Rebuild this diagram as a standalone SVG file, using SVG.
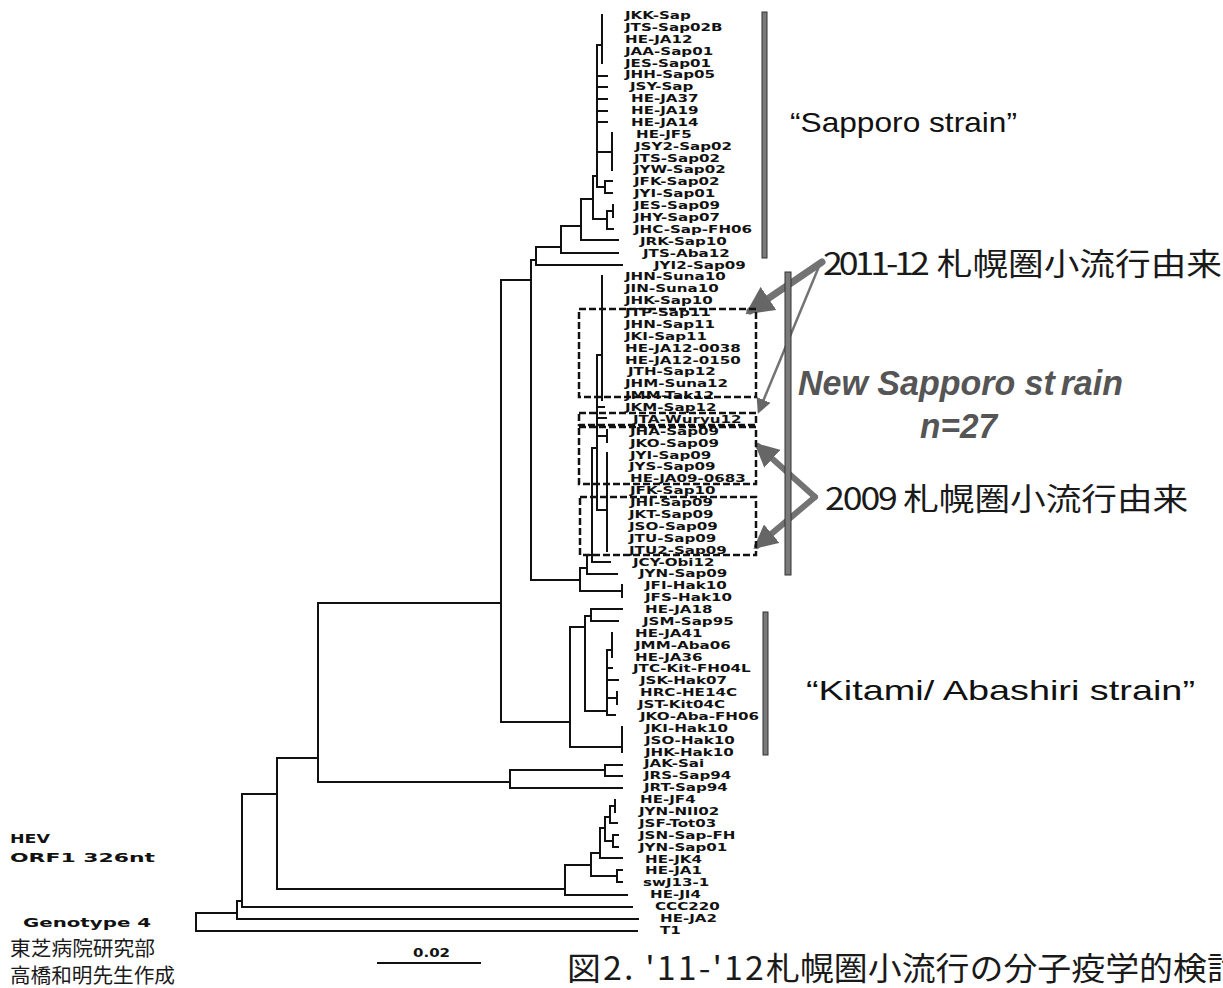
<svg xmlns="http://www.w3.org/2000/svg" width="1223" height="988" viewBox="0 0 1223 988">
<style>
.t{fill:none;stroke:#111;stroke-width:2;stroke-linecap:square}
.lf{font-family:"DejaVu Sans",sans-serif;font-weight:bold;font-size:10.5px;fill:#111}
.db{fill:none;stroke:#111;stroke-width:2.5;stroke-dasharray:7 3}
.bar{fill:#7a7a7a;stroke:#333;stroke-width:1}
.ga{stroke:#737373;fill:none;stroke-linecap:round}
.ann{font-family:"Liberation Sans",sans-serif;font-size:28px;fill:#111}
.jp{font-family:"Noto Sans CJK JP",sans-serif;fill:#1a1a1a}
.bl{font-family:"DejaVu Sans",sans-serif;font-weight:bold;font-size:13px;fill:#111}
.it{font-family:"Liberation Sans",sans-serif;font-style:italic;font-weight:bold;font-size:35px;fill:#555}
</style>
<defs>
<marker id="ah" viewBox="0 0 10 10" refX="8" refY="5" markerWidth="4" markerHeight="4" orient="auto">
<path d="M0,0 L10,5 L0,10 z" fill="#666"/>
</marker>
<marker id="ahs" viewBox="0 0 10 10" refX="8" refY="5" markerWidth="6" markerHeight="6" orient="auto">
<path d="M0,0 L10,5 L0,10 z" fill="#666"/>
</marker>
</defs>
<rect width="1223" height="988" fill="#fff"/>

<g id="connectors">
<path class="t" d="
M597 45 V187 M597 45 H602 M602 15 V63
M597 76 H607 M597 87 H607 M597 99 H607 M597 111 H607 M597 122 H607
M597 152 H612 M612 133 V170
M597 187 H605 M605 181 V193 M605 181 H612 M605 193 H612
M593 176 V219 M593 176 H597 M593 219 H607
M607 211 V229 M607 211 H613 M613 205 V217 M607 229 H613
M581 199 V240 M581 199 H593 M581 240 H618
M561 226 V253 M561 226 H581 M561 253 H618
M536 247 V265 M536 247 H561 M536 265 H622
M531 260 V580 M531 260 H536 M531 580 H580
M501 280 V722 M501 280 H531 M501 722 H570
M318 603 V782 M318 603 H501 M318 782 H510
M510 770 V788 M510 770 H605 M605 765 V776 M605 765 H622 M605 776 H622 M510 788 H622
M277 758 V889 M277 758 H318 M277 889 H565
M242 794 V907 M242 794 H277 M242 907 H632
M237 901 V919 M237 901 H242 M237 919 H638
M196 913 V931 M196 913 H237 M196 931 H637
M565 865 V895 M565 895 H627 M565 865 H591
M591 853 V876 M591 853 H600 M591 876 H617 M617 870 V882 M617 870 H622 M617 882 H622
M600 828 V858 M600 828 H605 M600 858 H622
M605 817 V841 M605 817 H610 M605 841 H613 M613 835 V847 M613 835 H618 M613 847 H618
M610 806 V823 M610 806 H615 M615 800 V812 M610 823 H617
M570 627 V747 M570 627 H585 M570 747 H622 M622 727 V752
M585 616 V711 M585 616 H591 M591 609 V621 M591 609 H622 M591 621 H618 M585 711 H607
M607 650 V715 M607 650 H612 M612 633 V657 M607 668 H612 M607 680 H618 M607 698 H617 M617 692 V704 M607 715 H615
M580 568 V591 M580 591 H622 M622 585 V597
M587 555 V574 M580 568 H587 M587 574 H617
M592 448 V562 M587 555 H592 M592 562 H610
M597 355 V510 M592 448 H597 M597 355 H602 M602 276 V400
M597 407 H604 M597 418 H606
M597 436 H607 M607 430 V442
M597 510 H607 M607 453 V551
"/>
<path class="t" stroke-width="1.5" d="M378 963 H480"/>
<path class="ga" stroke-width="7" d="M822 262 L750 311" marker-end="url(#ah)"/>
<path class="ga" stroke-width="2.5" d="M820 264 L759 411" marker-end="url(#ahs)"/>
<path class="ga" stroke-width="6" d="M815 497 L758 446" marker-end="url(#ah)"/>
<path class="ga" stroke-width="6" d="M815 497 L757 546" marker-end="url(#ah)"/>
</g>

<g id="boxes">
<rect class="db" x="579" y="309" width="177" height="88"/>
<rect class="db" x="579" y="413" width="177" height="12"/>
<rect class="db" x="579" y="427" width="177" height="57"/>
<rect class="db" x="580" y="497" width="176" height="58"/>
</g>

<g id="bars">
<rect id="bar-sapporo" class="bar" x="762" y="12" width="5" height="246"/>
<rect id="bar-new" class="bar" x="785" y="272" width="6" height="303"/>
<rect id="bar-kitami" class="bar" x="763" y="612" width="5" height="143"/>
</g>

<g id="leaves">
<g id="n-JKK-Sap" transform="translate(625 19) scale(1.44 1)"><text class="lf">JKK-Sap</text></g>
<g id="n-JTS-Sap02B" transform="translate(625 30.9) scale(1.44 1)"><text class="lf">JTS-Sap02B</text></g>
<g id="n-HE-JA12" transform="translate(625 42.8) scale(1.44 1)"><text class="lf">HE-JA12</text></g>
<g id="n-JAA-Sap01" transform="translate(625 54.6) scale(1.44 1)"><text class="lf">JAA-Sap01</text></g>
<g id="n-JES-Sap01" transform="translate(625 66.5) scale(1.44 1)"><text class="lf">JES-Sap01</text></g>
<g id="n-JHH-Sap05" transform="translate(625 78.4) scale(1.44 1)"><text class="lf">JHH-Sap05</text></g>
<g id="n-JSY-Sap" transform="translate(630 90.3) scale(1.44 1)"><text class="lf">JSY-Sap</text></g>
<g id="n-HE-JA37" transform="translate(631 102.2) scale(1.44 1)"><text class="lf">HE-JA37</text></g>
<g id="n-HE-JA19" transform="translate(631 114) scale(1.44 1)"><text class="lf">HE-JA19</text></g>
<g id="n-HE-JA14" transform="translate(631 125.9) scale(1.44 1)"><text class="lf">HE-JA14</text></g>
<g id="n-HE-JF5" transform="translate(636 137.8) scale(1.44 1)"><text class="lf">HE-JF5</text></g>
<g id="n-JSY2-Sap02" transform="translate(635 149.7) scale(1.44 1)"><text class="lf">JSY2-Sap02</text></g>
<g id="n-JTS-Sap02" transform="translate(634 161.6) scale(1.44 1)"><text class="lf">JTS-Sap02</text></g>
<g id="n-JYW-Sap02" transform="translate(634 173.4) scale(1.44 1)"><text class="lf">JYW-Sap02</text></g>
<g id="n-JFK-Sap02" transform="translate(634 185.3) scale(1.44 1)"><text class="lf">JFK-Sap02</text></g>
<g id="n-JYI-Sap01" transform="translate(634 197.2) scale(1.44 1)"><text class="lf">JYI-Sap01</text></g>
<g id="n-JES-Sap09" transform="translate(634 209.1) scale(1.44 1)"><text class="lf">JES-Sap09</text></g>
<g id="n-JHY-Sap07" transform="translate(634 221) scale(1.44 1)"><text class="lf">JHY-Sap07</text></g>
<g id="n-JHC-Sap-FH06" transform="translate(634 232.8) scale(1.44 1)"><text class="lf">JHC-Sap-FH06</text></g>
<g id="n-JRK-Sap10" transform="translate(640 244.7) scale(1.44 1)"><text class="lf">JRK-Sap10</text></g>
<g id="n-JTS-Aba12" transform="translate(643 256.6) scale(1.44 1)"><text class="lf">JTS-Aba12</text></g>
<g id="n-JYI2-Sap09" transform="translate(654 268.5) scale(1.44 1)"><text class="lf">JYI2-Sap09</text></g>
<g id="n-JHN-Suna10" transform="translate(625 280.4) scale(1.44 1)"><text class="lf">JHN-Suna10</text></g>
<g id="n-JIN-Suna10" transform="translate(625 292.2) scale(1.44 1)"><text class="lf">JIN-Suna10</text></g>
<g id="n-JHK-Sap10" transform="translate(625 304.1) scale(1.44 1)"><text class="lf">JHK-Sap10</text></g>
<g id="n-JTP-Sap11" transform="translate(625 316) scale(1.44 1)"><text class="lf">JTP-Sap11</text></g>
<g id="n-JHN-Sap11" transform="translate(625 327.9) scale(1.44 1)"><text class="lf">JHN-Sap11</text></g>
<g id="n-JKI-Sap11" transform="translate(625 339.8) scale(1.44 1)"><text class="lf">JKI-Sap11</text></g>
<g id="n-HE-JA12-0038" transform="translate(625 351.6) scale(1.44 1)"><text class="lf">HE-JA12-0038</text></g>
<g id="n-HE-JA12-0150" transform="translate(625 363.5) scale(1.44 1)"><text class="lf">HE-JA12-0150</text></g>
<g id="n-JTH-Sap12" transform="translate(628 375.4) scale(1.44 1)"><text class="lf">JTH-Sap12</text></g>
<g id="n-JHM-Suna12" transform="translate(625 387.3) scale(1.44 1)"><text class="lf">JHM-Suna12</text></g>
<g id="n-JMM-Tak12" transform="translate(625 399.2) scale(1.44 1)"><text class="lf">JMM-Tak12</text></g>
<g id="n-JKM-Sap12" transform="translate(625 411) scale(1.44 1)"><text class="lf">JKM-Sap12</text></g>
<g id="n-JTA-Wuryu12" transform="translate(633 422.9) scale(1.44 1)"><text class="lf">JTA-Wuryu12</text></g>
<g id="n-JHA-Sap09" transform="translate(630 434.8) scale(1.44 1)"><text class="lf">JHA-Sap09</text></g>
<g id="n-JKO-Sap09" transform="translate(630 446.7) scale(1.44 1)"><text class="lf">JKO-Sap09</text></g>
<g id="n-JYI-Sap09" transform="translate(630 458.6) scale(1.44 1)"><text class="lf">JYI-Sap09</text></g>
<g id="n-JYS-Sap09" transform="translate(629 470.4) scale(1.44 1)"><text class="lf">JYS-Sap09</text></g>
<g id="n-HE-JA09-0683" transform="translate(630 482.3) scale(1.44 1)"><text class="lf">HE-JA09-0683</text></g>
<g id="n-JFK-Sap10" transform="translate(630 494.2) scale(1.44 1)"><text class="lf">JFK-Sap10</text></g>
<g id="n-JHI-Sap09" transform="translate(630 506.1) scale(1.44 1)"><text class="lf">JHI-Sap09</text></g>
<g id="n-JKT-Sap09" transform="translate(629 518) scale(1.44 1)"><text class="lf">JKT-Sap09</text></g>
<g id="n-JSO-Sap09" transform="translate(629 529.8) scale(1.44 1)"><text class="lf">JSO-Sap09</text></g>
<g id="n-JTU-Sap09" transform="translate(629 541.7) scale(1.44 1)"><text class="lf">JTU-Sap09</text></g>
<g id="n-JTU2-Sap09" transform="translate(629 553.6) scale(1.44 1)"><text class="lf">JTU2-Sap09</text></g>
<g id="n-JCY-Obi12" transform="translate(633 565.5) scale(1.44 1)"><text class="lf">JCY-Obi12</text></g>
<g id="n-JYN-Sap09" transform="translate(639 577.4) scale(1.44 1)"><text class="lf">JYN-Sap09</text></g>
<g id="n-JFI-Hak10" transform="translate(645 589.2) scale(1.44 1)"><text class="lf">JFI-Hak10</text></g>
<g id="n-JFS-Hak10" transform="translate(645 601.1) scale(1.44 1)"><text class="lf">JFS-Hak10</text></g>
<g id="n-HE-JA18" transform="translate(645 613) scale(1.44 1)"><text class="lf">HE-JA18</text></g>
<g id="n-JSM-Sap95" transform="translate(643 624.9) scale(1.44 1)"><text class="lf">JSM-Sap95</text></g>
<g id="n-HE-JA41" transform="translate(635 636.8) scale(1.44 1)"><text class="lf">HE-JA41</text></g>
<g id="n-JMM-Aba06" transform="translate(635 648.6) scale(1.44 1)"><text class="lf">JMM-Aba06</text></g>
<g id="n-HE-JA36" transform="translate(635 660.5) scale(1.44 1)"><text class="lf">HE-JA36</text></g>
<g id="n-JTC-Kit-FH04L" transform="translate(633 672.4) scale(1.44 1)"><text class="lf">JTC-Kit-FH04L</text></g>
<g id="n-JSK-Hak07" transform="translate(640 684.3) scale(1.44 1)"><text class="lf">JSK-Hak07</text></g>
<g id="n-HRC-HE14C" transform="translate(640 696.2) scale(1.44 1)"><text class="lf">HRC-HE14C</text></g>
<g id="n-JST-Kit04C" transform="translate(638 708) scale(1.44 1)"><text class="lf">JST-Kit04C</text></g>
<g id="n-JKO-Aba-FH06" transform="translate(640 719.9) scale(1.44 1)"><text class="lf">JKO-Aba-FH06</text></g>
<g id="n-JKI-Hak10" transform="translate(645 731.8) scale(1.44 1)"><text class="lf">JKI-Hak10</text></g>
<g id="n-JSO-Hak10" transform="translate(645 743.7) scale(1.44 1)"><text class="lf">JSO-Hak10</text></g>
<g id="n-JHK-Hak10" transform="translate(645 755.6) scale(1.44 1)"><text class="lf">JHK-Hak10</text></g>
<g id="n-JAK-Sai" transform="translate(644 767.4) scale(1.44 1)"><text class="lf">JAK-Sai</text></g>
<g id="n-JRS-Sap94" transform="translate(644 779.3) scale(1.44 1)"><text class="lf">JRS-Sap94</text></g>
<g id="n-JRT-Sap94" transform="translate(644 791.2) scale(1.44 1)"><text class="lf">JRT-Sap94</text></g>
<g id="n-HE-JF4" transform="translate(640 803.1) scale(1.44 1)"><text class="lf">HE-JF4</text></g>
<g id="n-JYN-NII02" transform="translate(639 815) scale(1.44 1)"><text class="lf">JYN-NII02</text></g>
<g id="n-JSF-Tot03" transform="translate(639 826.8) scale(1.44 1)"><text class="lf">JSF-Tot03</text></g>
<g id="n-JSN-Sap-FH" transform="translate(639 838.7) scale(1.44 1)"><text class="lf">JSN-Sap-FH</text></g>
<g id="n-JYN-Sap01" transform="translate(639 850.6) scale(1.44 1)"><text class="lf">JYN-Sap01</text></g>
<g id="n-HE-JK4" transform="translate(645 862.5) scale(1.44 1)"><text class="lf">HE-JK4</text></g>
<g id="n-HE-JA1" transform="translate(645 874.4) scale(1.44 1)"><text class="lf">HE-JA1</text></g>
<g id="n-swJ13-1" transform="translate(643 886.2) scale(1.44 1)"><text class="lf">swJ13-1</text></g>
<g id="n-HE-JI4" transform="translate(650 898.1) scale(1.44 1)"><text class="lf">HE-JI4</text></g>
<g id="n-CCC220" transform="translate(655 910) scale(1.44 1)"><text class="lf">CCC220</text></g>
<g id="n-HE-JA2" transform="translate(660 921.9) scale(1.44 1)"><text class="lf">HE-JA2</text></g>
<g id="n-T1" transform="translate(660 933.8) scale(1.44 1)"><text class="lf">T1</text></g>
</g>

<g id="annotations">
<g id="lbl-sapporo"><text class="ann" x="790" y="132" textLength="227" lengthAdjust="spacingAndGlyphs">“Sapporo strain”</text></g>
<g id="lbl-kitami"><text class="ann" x="806" y="700" textLength="389" lengthAdjust="spacingAndGlyphs">“Kitami/ Abashiri strain”</text></g>
<g id="lbl-new"><text class="it" x="798" y="395" textLength="325" lengthAdjust="spacingAndGlyphs">New Sapporo st<tspan dx="6">rain</tspan></text>
<text class="it" x="920" y="438" textLength="77" lengthAdjust="spacingAndGlyphs">n=27</text></g>
<g id="lbl-2011"><text class="jp" font-size="31" transform="translate(823 275) scale(1.15 1)"><tspan letter-spacing="-3.5">2011-12</tspan><tspan x="99">札幌圏小流行由来</tspan></text></g>
<g id="lbl-2009"><text class="jp" font-size="31" transform="translate(825 510) scale(1.15 1)"><tspan letter-spacing="-1.8">2009</tspan><tspan x="68">札幌圏小流行由来</tspan></text></g>
<g id="lbl-hev"><text class="bl" x="10" y="843" textLength="40" lengthAdjust="spacingAndGlyphs">HEV</text>
<text class="bl" x="10" y="862" textLength="145" lengthAdjust="spacingAndGlyphs">ORF1 326nt</text></g>
<g id="lbl-genotype"><text class="bl" x="23" y="927" textLength="128" lengthAdjust="spacingAndGlyphs">Genotype 4</text></g>
<g id="lbl-author"><text class="jp" font-size="20" x="10" y="956" textLength="145" lengthAdjust="spacingAndGlyphs">東芝病院研究部</text>
<text class="jp" font-size="20" x="10" y="983" textLength="165" lengthAdjust="spacingAndGlyphs">高橋和明先生作成</text></g>
<g id="lbl-scale"><text class="bl" x="413" y="957" textLength="37" lengthAdjust="spacingAndGlyphs">0.02</text></g>
<g id="lbl-caption"><text class="jp" font-size="32" transform="translate(567 980) scale(1.06 1)"><tspan letter-spacing="2">図2. '11-'12</tspan>札幌圏小流行の分子疫学的検討</text></g>
</g>
</svg>
